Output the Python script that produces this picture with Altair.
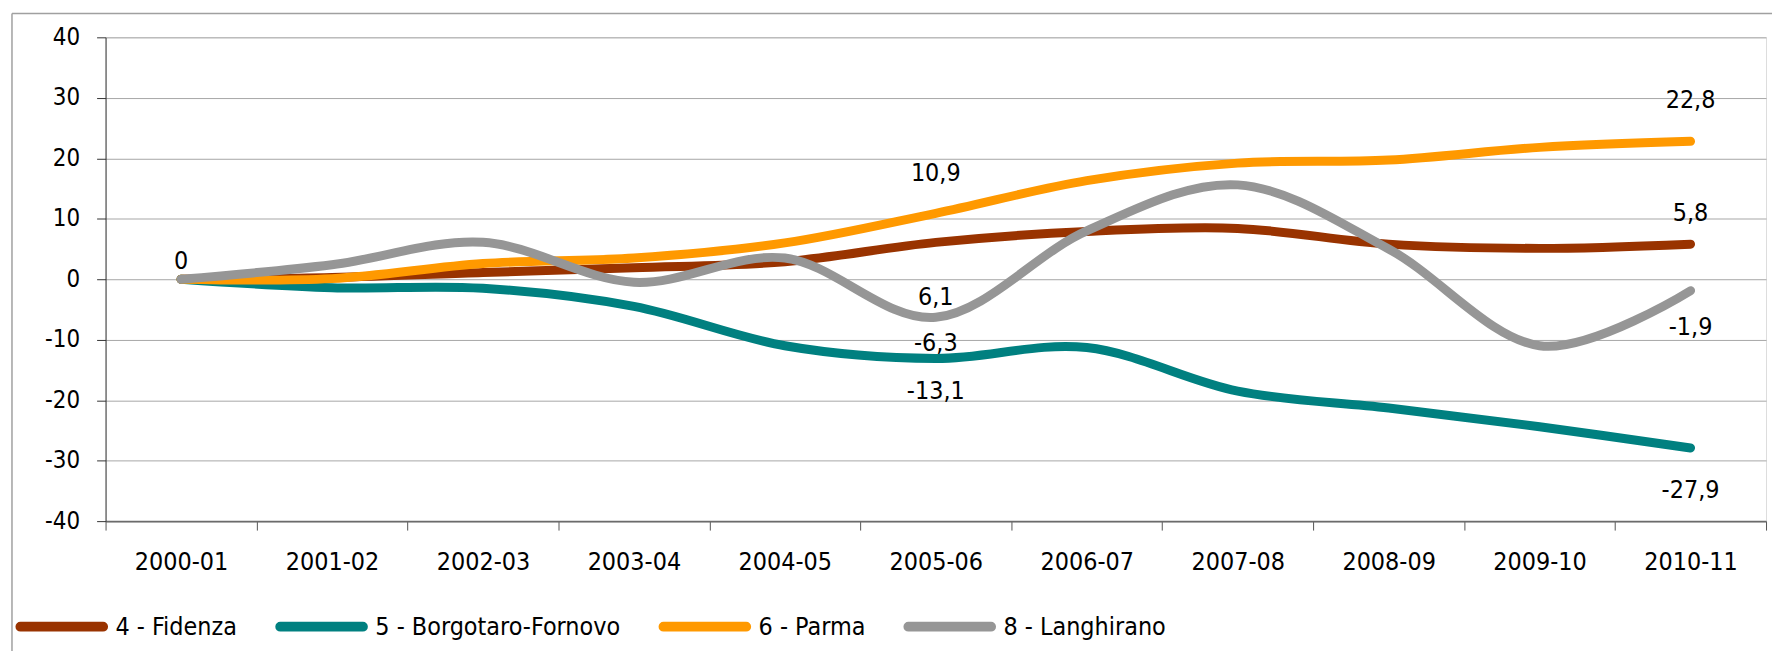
import altair as alt
import pandas as pd

FONT = "Liberation Sans Narrow, DejaVu Sans Condensed, sans-serif"

categories = ["2000-01", "2001-02", "2002-03", "2003-04", "2004-05", "2005-06",
              "2006-07", "2007-08", "2008-09", "2009-10", "2010-11"]
series_names = ["4 - Fidenza", "5 - Borgotaro-Fornovo", "6 - Parma", "8 - Langhirano"]
fidenza = [0, 0.3, 1.1, 1.9, 2.9, 6.1, 7.9, 8.4, 5.8, 5.1, 5.8]
borgotaro = [0, -1.4, -1.5, -4.5, -11.0, -13.1, -11.3, -18.5, -21.3, -24.4, -27.9]
parma = [0, 0.1, 2.6, 3.5, 6.0, 10.9, 16.3, 19.2, 19.7, 21.8, 22.8]
langhirano = [0, 2.4, 6.1, -0.5, 3.5, -6.3, 8.0, 15.6, 5.0, -11.0, -1.9]
colors = ["#993300", "#008080", "#FF9900", "#969696"]

label_cats = ["2000-01", "2005-06", "2005-06", "2005-06", "2005-06",
              "2010-11", "2010-11", "2010-11", "2010-11"]
label_vals = [0, 10.9, 6.1, -6.3, -13.1, 22.8, 5.8, -1.9, -27.9]
label_texts = ["0", "10,9", "6,1", "-6,3", "-13,1", "22,8", "5,8", "-1,9", "-27,9"]

# vertical offsets of the value labels (style)
label_dy = {"0": -18, "10,9": -40, "6,1": 55, "-6,3": 26, "-13,1": 33,
            "22,8": -41, "5,8": -31, "-1,9": 36, "-27,9": 42}

rows = []
for name, vals in zip(series_names, [fidenza, borgotaro, parma, langhirano]):
    for c, v in zip(categories, vals):
        rows.append({"Anno": c, "Serie": name, "Valore": v})
df = pd.DataFrame(rows)

labels_df = pd.DataFrame({"Anno": label_cats, "Valore": label_vals, "Testo": label_texts})

legend_path = ("M-1,-0.06 L1,-0.06 A0.06,0.06 0 0 1 1,0.06 "
               "L-1,0.06 A0.06,0.06 0 0 1 -1,-0.06 Z")

x_enc = alt.X("Anno:N", sort=categories, bandPosition=0.5,
              scale=alt.Scale(type="band", domain=categories, paddingInner=0, paddingOuter=0),
              axis=alt.Axis(title=None, tickBand="extent", grid=False, tickSize=9,
                            labelFontSize=25, labelPadding=20, labelAngle=0,
                            labelFont=FONT, labelColor="#000000",
                            domainColor="#6b6b6b", domainWidth=2, tickColor="#555555"))
y_enc = alt.Y("Valore:Q",
              scale=alt.Scale(domain=[-40, 40], nice=False, zero=False),
              axis=alt.Axis(title=None, values=list(range(-40, 41, 10)), grid=True,
                            gridColor="#a6a6a6", gridWidth=1, tickSize=9,
                            labelExpr="'' + datum.value",
                            labelFontSize=24, labelPadding=17, labelFont=FONT,
                            labelColor="#000000", domainColor="#333333",
                            tickColor="#333333"))

lines = alt.Chart(df).mark_line(
    interpolate="cardinal", tension=0, strokeWidth=9, strokeCap="round", strokeJoin="round"
).encode(
    x=x_enc,
    y=y_enc,
    color=alt.Color("Serie:N", sort=series_names,
                    scale=alt.Scale(domain=series_names, range=colors),
                    legend=alt.Legend(orient="none", legendX=-88, legendY=548,
                                      direction="horizontal", title=None,
                                      symbolType=legend_path, symbolSize=6889,
                                      symbolStrokeWidth=5, labelFontSize=25,
                                      labelFont=FONT, labelColor="#000000",
                                      labelLimit=400, columnPadding=30,
                                      labelOffset=10, padding=0)),
    order=alt.Order("Serie:N"),
)

layers = [lines]
for t in label_texts:
    layers.append(
        alt.Chart(labels_df).transform_filter(alt.datum.Testo == t).mark_text(
            dy=label_dy[t], fontSize=25, font=FONT, color="#000000",
            align="center", baseline="middle"
        ).encode(
            x=alt.X("Anno:N", sort=categories, bandPosition=0.5),
            y=alt.Y("Valore:Q"),
            text="Testo:N",
        )
    )

frame_data = alt.Data(values=[{"k": 1}])
frame_left = alt.Chart(frame_data).mark_rule(color="#a0a0a0", strokeWidth=1.5).encode(
    x=alt.value(-94), y=alt.value(-24), y2=alt.value(700))
frame_top = alt.Chart(frame_data).mark_rule(color="#a0a0a0", strokeWidth=1.5).encode(
    x=alt.value(-94), x2=alt.value(1700), y=alt.value(-24))
layers += [frame_left, frame_top]

chart = alt.layer(*layers).properties(
    width=1668, height=486,
    padding={"left": 98, "top": 28, "right": 6, "bottom": 129},
    autosize="none",
).configure_view(strokeWidth=0).configure(background="#ffffff")

chart.save("out.html", embed_options={"renderer": "svg", "actions": False})
